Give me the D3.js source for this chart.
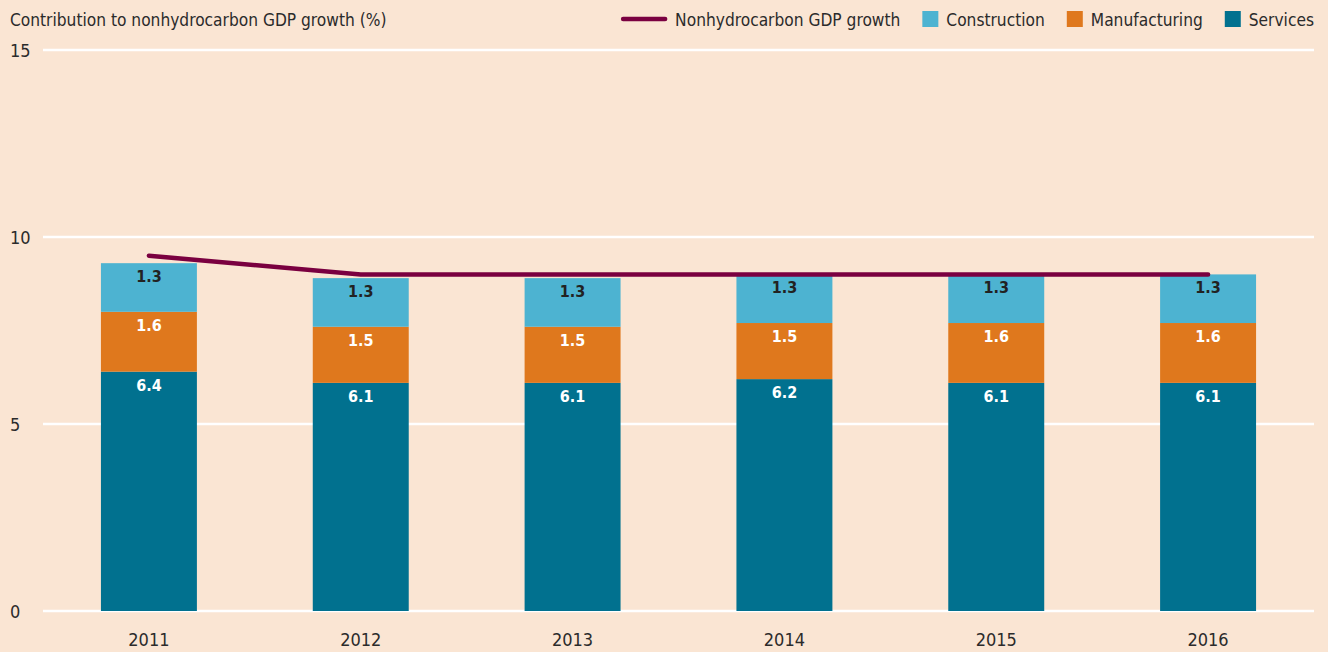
<!DOCTYPE html>
<html>
<head>
<meta charset="utf-8">
<script src="https://cdn.jsdelivr.net/npm/d3@7"></script>
<style>
  html, body { margin: 0; padding: 0; background: #fae5d3; }
  svg { display: block; }
  text { font-family: "Liberation Sans Narrow", "DejaVu Sans Condensed", "Roboto", sans-serif; }
</style>
</head>
<body>
<svg id="chart"></svg>
<script>
// data
var years = ["2011", "2012", "2013", "2014", "2015", "2016"];
var services = [6.4, 6.1, 6.1, 6.2, 6.1, 6.1];
var manufacturing = [1.6, 1.5, 1.5, 1.5, 1.6, 1.6];
var construction = [1.3, 1.3, 1.3, 1.3, 1.3, 1.3];
var growth = [9.5, 9.0, 9.0, 9.0, 9.0, 9.0];
var yTicks = [0, 5, 10, 15];

var seriesNames = ["Services", "Manufacturing", "Construction"];
var colors = { Services: "#01718f", Manufacturing: "#df781d", Construction: "#4db3d1" };
var labelColors = { Services: "#ffffff", Manufacturing: "#ffffff", Construction: "#222222" };

var width = 1328, height = 652;
var margin = { top: 50, right: 14, bottom: 41, left: 43 };

var svg = d3.select("#chart").attr("width", width).attr("height", height);

svg.append("rect").attr("width", width).attr("height", height).attr("fill", "#fae5d3");

var x = d3.scaleBand()
  .domain(years)
  .range([margin.left, width - margin.right])
  .paddingInner(0.547)
  .paddingOuter(0.2735);

var y = d3.scaleLinear()
  .domain([0, 15])
  .range([height - margin.bottom, margin.top]);

// gridlines
svg.append("g").selectAll("line")
  .data(yTicks)
  .join("line")
  .attr("x1", margin.left)
  .attr("x2", width - margin.right)
  .attr("y1", function(d) { return y(d); })
  .attr("y2", function(d) { return y(d); })
  .attr("stroke", "#ffffff")
  .attr("stroke-width", 2.5);

// y tick labels
svg.append("g").selectAll("text")
  .data(yTicks)
  .join("text")
  .attr("x", 10)
  .attr("y", function(d) { return y(d) + 7; })
  .attr("font-size", 18)
  .attr("fill", "#2b2b2b")
  .text(function(d) { return d; });

// stacked data
var table = years.map(function(yr, i) {
  return { year: yr, Services: services[i], Manufacturing: manufacturing[i], Construction: construction[i] };
});
var stacked = d3.stack().keys(seriesNames)(table);

var layers = svg.append("g").selectAll("g")
  .data(stacked)
  .join("g")
  .attr("fill", function(d) { return colors[d.key]; });

layers.selectAll("rect")
  .data(function(d) { return d; })
  .join("rect")
  .attr("x", function(d) { return x(d.data.year); })
  .attr("width", x.bandwidth())
  .attr("y", function(d) { return y(d[1]); })
  .attr("height", function(d) { return y(d[0]) - y(d[1]); });

// segment labels
stacked.forEach(function(layer) {
  svg.append("g").selectAll("text")
    .data(layer)
    .join("text")
    .attr("x", function(d) { return x(d.data.year) + x.bandwidth() / 2; })
    .attr("y", function(d) { return y(d[1]) + 19; })
    .attr("text-anchor", "middle")
    .attr("font-size", 16)
    .attr("font-weight", "bold")
    .attr("fill", labelColors[layer.key])
    .text(function(d) { return d3.format(".1f")(d.data[layer.key]); });
});

// growth line
var line = d3.line()
  .x(function(d, i) { return x(years[i]) + x.bandwidth() / 2; })
  .y(function(d) { return y(d); });

svg.append("path")
  .datum(growth)
  .attr("d", line)
  .attr("fill", "none")
  .attr("stroke", "#7a0040")
  .attr("stroke-width", 4.5)
  .attr("stroke-linecap", "round")
  .attr("stroke-linejoin", "round");

// x labels
svg.append("g").selectAll("text")
  .data(years)
  .join("text")
  .attr("x", function(d) { return x(d) + x.bandwidth() / 2; })
  .attr("y", 646)
  .attr("text-anchor", "middle")
  .attr("font-size", 18)
  .attr("fill", "#2b2b2b")
  .text(function(d) { return d; });

// title
svg.append("text")
  .attr("x", 10)
  .attr("y", 26)
  .attr("font-size", 17.2)
  .attr("fill", "#2b2b2b")
  .text("Contribution to nonhydrocarbon GDP growth (%)");

// legend, right aligned
var legendItems = [
  { name: "Nonhydrocarbon GDP growth", type: "line", color: "#7a0040" },
  { name: "Construction", type: "box", color: colors.Construction },
  { name: "Manufacturing", type: "box", color: colors.Manufacturing },
  { name: "Services", type: "box", color: colors.Services }
];
var legend = svg.append("g");
var cursor = width - 14;
for (var i = legendItems.length - 1; i >= 0; i--) {
  var it = legendItems[i];
  var t = legend.append("text")
    .attr("y", 26)
    .attr("font-size", 17.2)
    .attr("fill", "#2b2b2b")
    .text(it.name);
  var w = t.node().getComputedTextLength();
  cursor -= w;
  t.attr("x", cursor);
  if (it.type === "box") {
    legend.append("rect")
      .attr("x", cursor - 24)
      .attr("y", 11)
      .attr("width", 16)
      .attr("height", 16)
      .attr("fill", it.color);
    cursor -= 24 + 22;
  } else {
    legend.append("line")
      .attr("x1", cursor - 52)
      .attr("x2", cursor - 10)
      .attr("y1", 19)
      .attr("y2", 19)
      .attr("stroke", it.color)
      .attr("stroke-width", 4.5)
      .attr("stroke-linecap", "round");
  }
}
</script>
</body>
</html>
